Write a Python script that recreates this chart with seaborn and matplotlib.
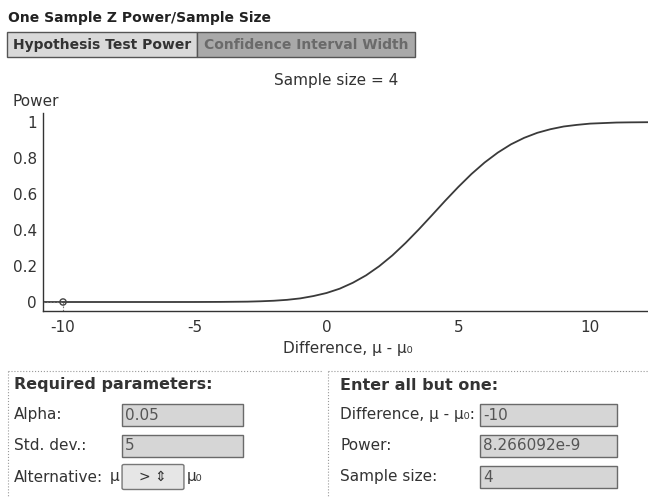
import numpy as np
import pandas as pd
import matplotlib
matplotlib.use("Agg")
import matplotlib.pyplot as plt
import seaborn as sns
from matplotlib.patches import Rectangle, FancyBboxPatch

# power curve (difference vs power)
difference = [-10.8, -10, -9, -8, -7, -6, -5, -4, -3, -2.5, -2, -1.5, -1, -0.5,
              0, 0.5, 1, 1.5, 2, 2.5, 3, 3.5, 4, 4.5, 5, 5.5, 6, 6.5, 7, 7.5,
              8, 8.5, 9, 9.5, 10, 10.5, 11, 11.5, 12.3]
power = [0.0, 0.0, 0.0, 0.0, 0.0, 0.0, 0.0001, 0.0006, 0.002, 0.004, 0.007, 0.012,
         0.020, 0.033, 0.05, 0.074, 0.107, 0.148, 0.199, 0.259, 0.328, 0.403,
         0.482, 0.562, 0.639, 0.711, 0.775, 0.830, 0.876, 0.912, 0.940, 0.960,
         0.975, 0.984, 0.991, 0.994, 0.997, 0.998, 0.999]

sel_diff = -10
sel_power = 8.266092e-9

x_ticks = [-10, -5, 0, 5, 10]
y_ticks = [0, 0.2, 0.4, 0.6, 0.8, 1]
y_ticklabels = ["0", "0.2", "0.4", "0.6", "0.8", "1"]

df = pd.DataFrame({"difference": difference, "power": power})

sns.set_theme(style="white")
plt.rcParams["font.family"] = ["DejaVu Sans"]

W, H = 648, 497
fig = plt.figure(figsize=(W / 100, H / 100), dpi=100)


def fx(px):
    return px / W


def fy(py):
    return 1 - py / H


txt = "#333333"
fs = 11

# header + tabs
fig.text(fx(8), fy(18), "One Sample Z Power/Sample Size", fontsize=10,
         fontweight="bold", color="#222222", va="center")
fig.patches.append(Rectangle((fx(7), fy(57)), fx(197) - fx(7), (57 - 32) / H,
                             transform=fig.transFigure, facecolor="#d9d9d9",
                             edgecolor="#555555", lw=1))
fig.patches.append(Rectangle((fx(197), fy(57)), fx(415) - fx(197), (57 - 32) / H,
                             transform=fig.transFigure, facecolor="#a9a9a9",
                             edgecolor="#555555", lw=1))
fig.text(fx(102), fy(45), "Hypothesis Test Power", fontsize=10, fontweight="bold",
         color="#333333", ha="center", va="center")
fig.text(fx(306), fy(45), "Confidence Interval Width", fontsize=10, fontweight="bold",
         color="#6a6a6a", ha="center", va="center")

# plot
ax = fig.add_axes([fx(43), fy(311), fx(648) - fx(43), (311 - 113) / H])
sns.lineplot(data=df, x="difference", y="power", ax=ax, color="#3a3a3a", lw=1.3)
xl = (-10.76, 12.2)
yl = (-0.05, 1.05)
ax.set_xlim(*xl)
ax.set_ylim(*yl)
ax.plot([xl[0], sel_diff], [sel_power, sel_power], ls=(0, (1.5, 1.5)), color="#777777", lw=0.8)
ax.plot([sel_diff, sel_diff], [yl[0], sel_power], ls=(0, (1.5, 1.5)), color="#777777", lw=0.8)
sns.scatterplot(x=[sel_diff], y=[sel_power], ax=ax, s=20, marker="o",
                facecolor="none", edgecolor="#444444", linewidth=1, zorder=5)

ax.set_xticks(x_ticks)
ax.set_xticklabels([str(v) for v in x_ticks])
ax.set_yticks(y_ticks)
ax.set_yticklabels(y_ticklabels)
ax.tick_params(axis="both", direction="inout", length=5, width=0.8, colors="#333333",
               labelsize=fs, labelcolor=txt, pad=2)
ax.tick_params(axis="x", pad=4)
for s in ["top", "right"]:
    ax.spines[s].set_visible(False)
for s in ["left", "bottom"]:
    ax.spines[s].set_color("#333333")
    ax.spines[s].set_linewidth(1)
ax.set_xlabel("")
ax.set_ylabel("")
ax.patch.set_alpha(0)

fig.text(fx(336), fy(80), "Sample size = 4", fontsize=fs, color=txt, ha="center", va="center")
fig.text(fx(12), fy(102), "Power", fontsize=fs, color=txt, va="center")
fig.text(fx(348), fy(349), "Difference, μ - μ₀", fontsize=fs, color=txt, ha="center", va="center")

# parameter panels
for x0, x1 in [(8, 322), (328, 648)]:
    fig.add_artist(plt.Line2D([fx(x0), fx(x1)], [fy(371), fy(371)], transform=fig.transFigure,
                              ls=":", color="#999999", lw=0.8))
    fig.add_artist(plt.Line2D([fx(x0), fx(x0)], [fy(371), fy(497)], transform=fig.transFigure,
                              ls=":", color="#999999", lw=0.8))


def box(x0, y0, x1, y1, value):
    fig.patches.append(Rectangle((fx(x0), fy(y1)), fx(x1) - fx(x0), (y1 - y0) / H,
                                 transform=fig.transFigure, facecolor="#d6d6d6",
                                 edgecolor="#6a6a6a", lw=1))
    fig.text(fx(x0 + 3), fy((y0 + y1) / 2), value, fontsize=fs, color="#555555", va="center")


rows = [415, 446, 477]

fig.text(fx(14), fy(385), "Required parameters:", fontsize=11.5, fontweight="bold",
         color="#333333", va="center")
fig.text(fx(14), fy(rows[0]), "Alpha:", fontsize=fs, color=txt, va="center")
box(122, rows[0] - 11, 243, rows[0] + 11, "0.05")
fig.text(fx(14), fy(rows[1]), "Std. dev.:", fontsize=fs, color=txt, va="center")
box(122, rows[1] - 11, 243, rows[1] + 11, "5")
fig.text(fx(14), fy(rows[2]), "Alternative:", fontsize=fs, color=txt, va="center")
fig.text(fx(110), fy(rows[2]), "μ", fontsize=fs, color=txt, va="center")
fig.patches.append(FancyBboxPatch((fx(124), fy(rows[2] + 11)), fx(182) - fx(124), 22 / H,
                                  boxstyle="round,pad=0.003", transform=fig.transFigure,
                                  facecolor="#e6e6e6", edgecolor="#777777", lw=1))
fig.text(fx(153), fy(rows[2]), "> ⇕", fontsize=10, color=txt, ha="center", va="center")
fig.text(fx(187), fy(rows[2]), "μ₀", fontsize=fs, color=txt, va="center")

fig.text(fx(340), fy(385), "Enter all but one:", fontsize=11.5, fontweight="bold",
         color="#333333", va="center")
fig.text(fx(340), fy(rows[0]), "Difference, μ - μ₀:", fontsize=fs, color=txt, va="center")
box(480, rows[0] - 11, 617, rows[0] + 11, "-10")
fig.text(fx(340), fy(rows[1]), "Power:", fontsize=fs, color=txt, va="center")
box(480, rows[1] - 11, 617, rows[1] + 11, "8.266092e-9")
fig.text(fx(340), fy(rows[2]), "Sample size:", fontsize=fs, color=txt, va="center")
box(480, rows[2] - 11, 617, rows[2] + 11, "4")

fig.savefig("out.png", dpi=100)
